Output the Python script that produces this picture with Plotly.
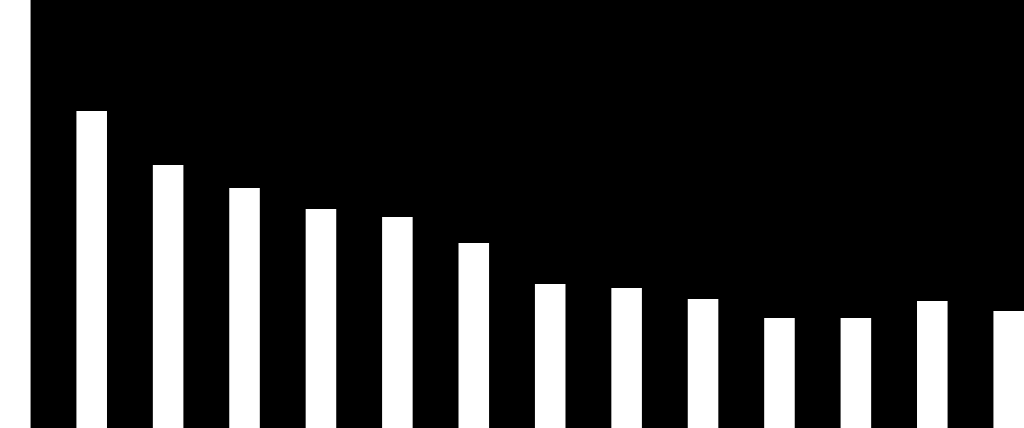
import plotly.graph_objects as go

categories = list(range(14))
values = [428, 317, 263, 240, 219, 211, 185, 144, 140, 129, 110, 110, 127, 117]

fig = go.Figure(go.Bar(x=categories, y=values, width=0.4,
                       marker=dict(color="white", line=dict(width=0))))
fig.update_layout(
    width=1024, height=428,
    margin=dict(l=0, r=0, t=0, b=0),
    paper_bgcolor="black", plot_bgcolor="black",
    showlegend=False,
    xaxis=dict(range=[-0.2, 13.2], visible=False, fixedrange=True),
    yaxis=dict(range=[0, 428], visible=False, fixedrange=True),
)
fig.write_html(
    "out.html",
    config={"displayModeBar": False},
    post_script="document.body.style.margin='0';document.body.style.overflow='hidden';document.body.style.background='black';",
)
